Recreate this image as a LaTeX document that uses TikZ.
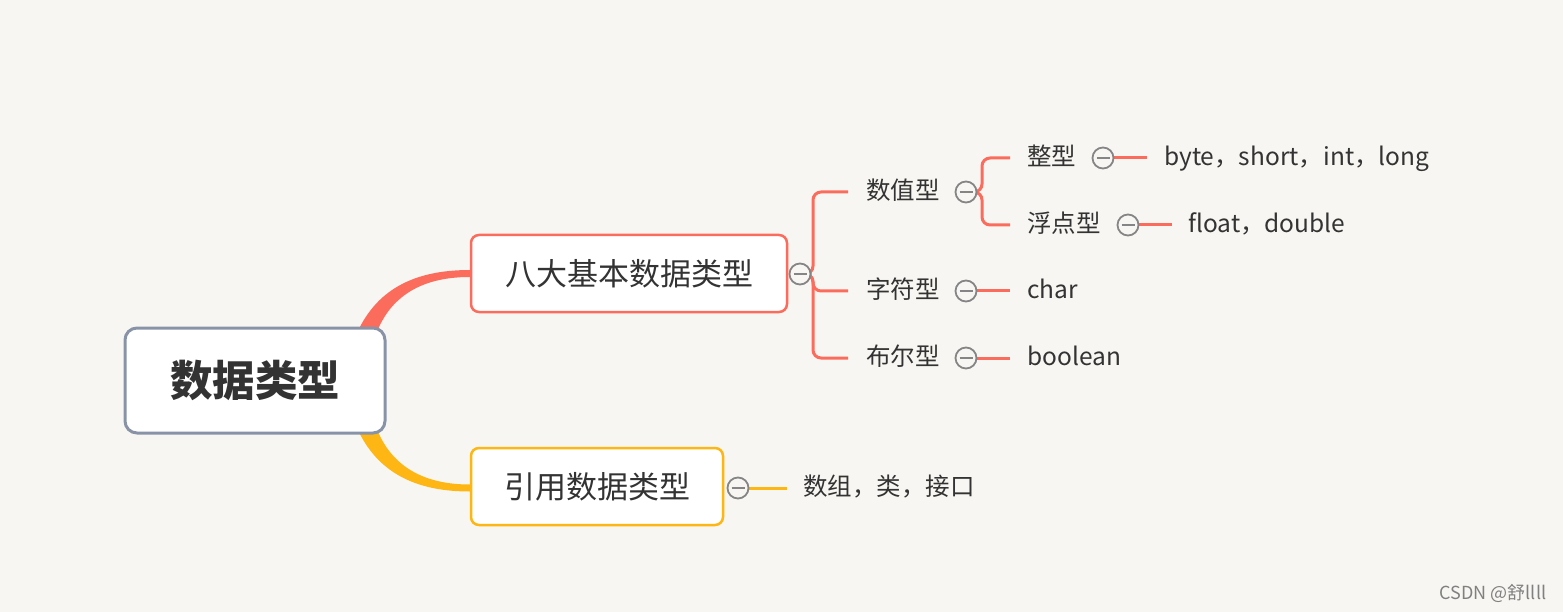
\documentclass[tikz,border=0pt]{standalone}
\usepackage{fontspec}
\setmainfont{Noto Sans CJK SC}
\usetikzlibrary{calc,backgrounds}
\definecolor{pagebg}{HTML}{F8F6F2}
\definecolor{ink}{HTML}{333333}
\definecolor{mapred}{HTML}{FC6C5C}
\definecolor{mapyellow}{HTML}{FDB614}
\definecolor{rootline}{HTML}{8893A8}
\definecolor{foldgray}{HTML}{858585}

\begin{document}
\begin{tikzpicture}[x=1pt, y=-1pt,
    rootbox/.style={draw=rootline, line width=3pt, fill=white, rounded corners=12pt, minimum width=260pt, minimum height=105pt, text=ink, font=\fontsize{42.5}{46}\selectfont\bfseries},
    mainbox/.style={draw=#1, line width=2.5pt, fill=white, rounded corners=8pt, minimum height=77pt, text=ink, font=\fontsize{31}{36}\selectfont},
    leaf/.style={anchor=west, inner sep=0pt, text=ink, font=\fontsize{24.5}{28}\selectfont, text height=1.62em, text depth=0.12em},
    fold/.style={circle, draw=foldgray, line width=1.8pt, fill=pagebg, minimum size=21pt, inner sep=0pt,
        path picture={\draw[foldgray, line width=1.8pt] ([xshift=-6.5pt]path picture bounding box.center) -- ([xshift=6.5pt]path picture bounding box.center);}},
    branch/.style={draw=#1, line width=3pt, rounded corners=8pt}]
                \useasboundingbox (0,0) rectangle (1563,612);
                \node[rootbox] (root) at (255,380.5) {数据类型};
                \node[mainbox=mapred, minimum width=316pt] (basic) at (629,273.5) {八大基本数据类型};
                \node[mainbox=mapyellow, minimum width=252pt] (ref) at (597,486.5) {引用数据类型};
                \node[fold] (fbasic) at (800,274) {};
                \node[fold] (fref) at (738,488) {};
                \node[leaf] (num) at (866,192) {数值型};
                \node[fold] (fnum) at (966,192) {};
                \node[leaf] (int) at (1027,158) {整型};
                \node[fold] (fint) at (1103,158) {};
                \node[leaf] (intv) at (1164,158) {byte，short，int，long};
                \node[leaf] (float) at (1027,225) {浮点型};
                \node[fold] (ffloat) at (1128,225) {};
                \node[leaf] (floatv) at (1188,225) {float，double};
                \node[leaf] (char) at (866,291) {字符型};
                \node[fold] (fchar) at (966,291) {};
                \node[leaf] (charv) at (1027,291) {char};
                \node[leaf] (bool) at (866,358) {布尔型};
                \node[fold] (fbool) at (966,358) {};
                \node[leaf] (boolv) at (1027,358) {boolean};
                \node[leaf] (refv) at (803,488) {数组，类，接口};
                \node[text=gray, font=\fontsize{18}{20}\selectfont] (mark) at (1493,593) {CSDN @舒llll};
                \coordinate (kbasic) at (813,274);
                \coordinate (knum) at (982,192);
                \begin{scope}[on background layer]
                \fill[pagebg] (0,0) rectangle (1563,612);
                \fill[mapred] ($(root.north east)+(-33,15)$) .. controls +(18,-48) and +(-61,0) .. ($(basic.west)+(0,-3.5)$)
                    -- ($(basic.west)+(0,3.5)$) .. controls +(-51,0) and +(13,-43) .. ($(root.north east)+(-13,15)$) -- cycle;
                \fill[mapyellow] ($(root.south east)+(-33,-15)$) .. controls +(18,48) and +(-61,0) .. ($(ref.west)+(0,5)$)
                    -- ($(ref.west)+(0,-2)$) .. controls +(-51,0) and +(13,43) .. ($(root.south east)+(-13,-15)$) -- cycle;
                \draw[branch=mapred] (fbasic) -- (kbasic) |- ([xshift=-18pt]num.west);
                \draw[branch=mapred] (fbasic) -- (kbasic) |- ([xshift=-18pt]char.west);
                \draw[branch=mapred] (fbasic) -- (kbasic) |- ([xshift=-18pt]bool.west);
                \draw[branch=mapred] (fnum) -- (knum) |- ([xshift=-17pt]int.west);
                \draw[branch=mapred] (fnum) -- (knum) |- ([xshift=-17pt]float.west);
                \draw[branch=mapred] (fint) -- ([xshift=-17pt]intv.west);
                \draw[branch=mapred] (ffloat) -- ([xshift=-16pt]floatv.west);
                \draw[branch=mapred] (fchar) -- ([xshift=-17pt]charv.west);
                \draw[branch=mapred] (fbool) -- ([xshift=-17pt]boolv.west);
                \draw[branch=mapyellow] (fref) -- ([xshift=-16pt]refv.west);
                \end{scope}
            \end{tikzpicture}
\end{document}
